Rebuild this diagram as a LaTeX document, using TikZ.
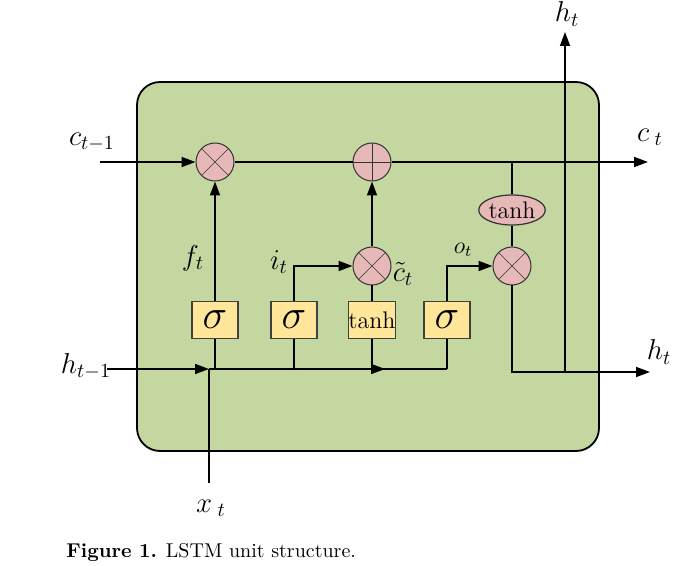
\documentclass[tikz,border=0pt]{standalone}
\usepackage{amsmath}
\usepackage{tikz}
\usetikzlibrary{positioning,shapes.geometric,arrows.meta,decorations.markings}

\definecolor{cellgreen}{RGB}{196,215,160}
\definecolor{oppink}{RGB}{230,185,184}
\definecolor{gateyellow}{RGB}{255,230,153}

\tikzset{
    wire/.style={line width=0.8pt},
    arr/.style={wire, -{Triangle[length=7pt,width=5pt]}},
    midarr/.style={wire, postaction={decorate}, decoration={markings,
        mark=at position #1 with {\arrow{Triangle[length=7pt,width=5pt]}}}},
    gate/.style={draw=black!75, line width=0.6pt, fill=gateyellow, minimum width=23pt,
        minimum height=18.5pt, inner sep=0pt},
    op/.style={draw=black!80, line width=0.5pt, circle, fill=oppink, minimum size=19pt, inner sep=0pt},
    mulop/.style={op, path picture={
        \draw[line width=0.3pt] (path picture bounding box.north west) -- (path picture bounding box.south east)
            (path picture bounding box.north east) -- (path picture bounding box.south west);}},
    addop/.style={op, path picture={
        \draw[line width=0.3pt] (path picture bounding box.north) -- (path picture bounding box.south)
            (path picture bounding box.west) -- (path picture bounding box.east);}},
    lab/.style={font=\Large},
}

\begin{document}
\begin{tikzpicture}[x=0.5pt, y=-0.5pt]
        \useasboundingbox (0,0) rectangle (700,566);
        % CELLA
        \draw[line width=0.9pt, fill=cellgreen, rounded corners=11.5pt] (137,82) rectangle (599,451);

        % NODI
        \node[mulop] (mf) at (215,162) {};
        \node[addop] (ac) at (372,162) {};
        \node[mulop] (mi) at (372,266) {};
        \node[mulop] (mo) at (512,266) {};
        \node[ellipse, draw=black!80, line width=0.6pt, fill=oppink, minimum width=32.5pt,
            minimum height=15pt, inner sep=0pt, font=\large] (tc) at (512,210) {tanh};
        \node[gate, font=\huge] (sf) at (215,320) {$\sigma$};
        \node[gate, font=\huge] (si) at (294,320) {$\sigma$};
        \node[gate, font=\large] (tg) at (372,320) {tanh};
        \node[gate, font=\huge] (so) at (447,320) {$\sigma$};

        \coordinate (cin) at (100,162);
        \coordinate (cout) at (648,162);
        \coordinate (hin) at (107,369);
        \coordinate (xin) at (209,483);
        \coordinate (hout) at (650,372);
        \coordinate (htop) at (565,32);
        \coordinate (hj) at (xin |- hin);
        \coordinate (cj) at (mo |- cin);

        % ETICHETTE
        \node[lab] (lcin) at (92,142) {$c_{t-1}$};
        \node[lab] (lcout) at (650,137) {$c_{\;t}$};
        \node[lab] (lhtop) at (567,14) {$h_t$};
        \node[lab] (lhout) at (659,352) {$h_t$};
        \node[lab] (lhin) at (86,366) {$h_{t-1}$};
        \node[lab] (lxin) at (211,508) {$x_{\;t}$};
        \node[lab] (lf) at (193,258) {$f_t$};
        \node[lab] (li) at (279,262) {$i_t$};
        \node[font=\large] (lo) at (463,250) {$o_t$};
        \node[lab] (lct) at (403,274) {$\tilde{c}_t$};

        % COLLEGAMENTI
        \draw[arr] (cin) -- (mf);
        \draw[wire] (mf) -- (ac);
        \draw[arr] (ac) -- (cout);
        \draw[wire] (cj) -- (tc);
        \draw[wire] (tc) -- (mo);
        \draw[arr] (mo) |- (hout);
        \draw[arr] (htop |- hout) -- (htop);
        \draw[arr] (sf) -- (mf);
        \draw[arr] (si) |- (mi);
        \draw[wire] (tg) -- (mi);
        \draw[arr] (mi) -- (ac);
        \draw[arr] (so.north) |- (mo);
        \draw[arr] (hin) -- (hj);
        \draw[wire] (xin) -- (hj);
        \draw[midarr=0.74] (hj) -- (so.south |- hj);
        \draw[wire] (so.south |- hj) -- (so);
        \draw[wire] (sf) -- (sf |- hj);
        \draw[wire] (si) -- (si |- hj);
        \draw[wire] (tg) -- (tg |- hj);

        % DIDASCALIA
        \node[anchor=base west, inner sep=0pt, font=\fontsize{10}{12}\selectfont] (cap) at (66,557)
            {\textbf{Figure 1.} LSTM unit structure.};
\end{tikzpicture}
\end{document}
